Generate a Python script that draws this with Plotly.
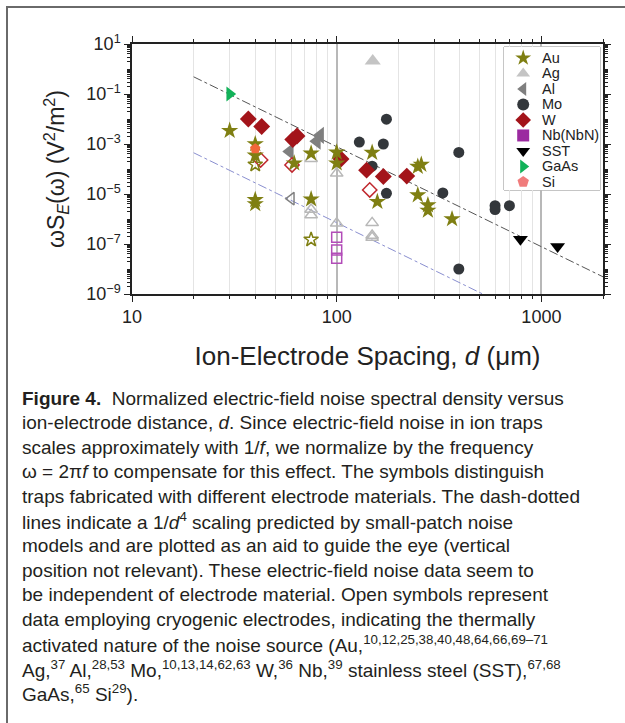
import numpy as np
import plotly.graph_objects as go

# ---------------- data ----------------
au_x = [30, 40, 40, 40, 40, 62, 75, 100, 100, 149, 75, 158, 249, 259, 249, 279, 279, 366]
au_y = [3.4e-3, 1.0e-3, 3.5e-4, 5.8e-6, 4.0e-6, 1.7e-4, 4.2e-4, 4.6e-4, 1.7e-4, 4.5e-4, 6.2e-6, 4.9e-6,
        1.24e-4, 1.5e-4, 9e-6, 3.6e-6, 2.2e-6, 1.0e-6]
au_open_x = [40, 75]
au_open_y = [1.5e-4, 1.5e-7]

ag_x = [150]
ag_y = [2.1]
ag_open_x = [75, 100, 100, 75, 75, 149, 149, 149]
ag_open_y = [2.6e-4, 6.7e-5, 6.7e-7, 2.4e-6, 1.45e-6, 7e-7, 2.2e-7, 1.8e-7]

al_x = [59, 83, 80]
al_y = [5e-4, 2.2e-3, 1.3e-3]
al_open_x = [60]
al_open_y = [6.5e-6]

mo_x = [129, 169, 175, 149, 175, 330, 395, 594, 594, 698, 395]
mo_y = [1.2e-3, 1.0e-3, 9.8e-3, 1.3e-4, 1.07e-5, 1.1e-5, 4.6e-4, 3.4e-6, 2.4e-6, 3.4e-6, 1e-8]

w_x = [37, 43, 61, 64, 105, 140, 169, 220]
w_y = [1e-2, 5e-3, 1.5e-3, 2.1e-3, 2.5e-4, 9e-5, 5e-5, 5.2e-5]
w_open_x = [42.5, 60.5, 145]
w_open_y = [2.3e-4, 1.45e-4, 1.45e-5]

nb_open_x = [100, 100, 100]
nb_open_y = [1.85e-7, 5.8e-8, 2.7e-8]

sst_x = [790, 1200]
sst_y = [1.55e-7, 8e-8]

gaas_x = [30]
gaas_y = [0.1]

si_x = [40]
si_y = [6.5e-4]

# 1/d^4 guide lines: prefactor C in  y = C / d^4
guide_d = [20, 2000]
guide_upper_C = 7.8e4
guide_lower_C = 71.4

legend_labels = ["Au", "Ag", "Al", "Mo", "W", "Nb(NbN)", "SST", "GaAs", "Si"]
legend_symbols = ["star", "triangle-up", "triangle-left", "circle", "diamond", "square",
                  "triangle-down", "triangle-right", "pentagon"]
legend_colors = ["#7f7f12", "#c4c4c4", "#7f7f7f", "#33373b", "#a3141a", "#9b2aa0",
                 "#000000", "#12b259", "#f07c7c"]

x_ticks = [10, 100, 1000]
y_tick_exp = [1, -1, -3, -5, -7, -9]

caption_lines = [
    "<b>Figure 4.</b>  Normalized electric-field noise spectral density versus",
    "ion-electrode distance, <i>d</i>. Since electric-field noise in ion traps",
    "scales approximately with 1/<i>f</i>, we normalize by the frequency",
    "ω = 2π<i>f</i> to compensate for this effect. The symbols distinguish",
    "traps fabricated with different electrode materials. The dash-dotted",
    "lines indicate a 1/<i>d</i><sup>4</sup> scaling predicted by small-patch noise",
    "models and are plotted as an aid to guide the eye (vertical",
    "position not relevant). These electric-field noise data seem to",
    "be independent of electrode material. Open symbols represent",
    "data employing cryogenic electrodes, indicating the thermally",
    "activated nature of the noise source (Au,<sup>10,12,25,38,40,48,64,66,69–71</sup>",
    "Ag,<sup>37</sup> Al,<sup>28,53</sup> Mo,<sup>10,13,14,62,63</sup> W,<sup>36</sup> Nb,<sup>39</sup> stainless steel (SST),<sup>67,68</sup>",
    "GaAs,<sup>65</sup> Si<sup>29</sup>).",
]

# ---------------- layout constants ----------------
W, H = 625, 723
L, R, T, B = 132, 603, 44, 294
FONT = "Liberation Sans, Arial, Helvetica, sans-serif"
CAP_Y0, CAP_DY = 398, 24.6

def px_to_paper_x(px):
    return (px - L) / (R - L)

def px_to_paper_y(py):
    return (B - py) / (B - T)

fig = go.Figure()

# guide lines
d = np.array(guide_d, dtype=float)
fig.add_trace(go.Scatter(x=d, y=guide_upper_C / d**4, mode="lines",
                         line=dict(color="#555555", width=1, dash="dashdot"),
                         showlegend=False, hoverinfo="skip"))
fig.add_trace(go.Scatter(x=d, y=guide_lower_C / d**4, mode="lines",
                         line=dict(color="#8a8fd0", width=1, dash="dashdot"),
                         showlegend=False, hoverinfo="skip"))

def filled(x, y, sym, col, size=12):
    fig.add_trace(go.Scatter(x=x, y=y, mode="markers", showlegend=False,
                             marker=dict(symbol=sym, size=size, color=col,
                                         line=dict(width=0))))

def opened(x, y, sym, col, size=11):
    fig.add_trace(go.Scatter(x=x, y=y, mode="markers", showlegend=False,
                             marker=dict(symbol=sym + "-open", size=size, color=col,
                                         line=dict(width=1.5, color=col))))

c = dict(zip(legend_labels, legend_colors))
opened(ag_open_x, ag_open_y, "triangle-up", "#b8b8b8")
opened(al_open_x, al_open_y, "triangle-left", "#808080")
opened(nb_open_x, nb_open_y, "square", "#b24cb8", 10)
filled(ag_x, ag_y, "triangle-up", c["Ag"], 14)
filled(mo_x, mo_y, "circle", c["Mo"], 11)
filled(al_x, al_y, "triangle-left", c["Al"], 15)
filled(w_x, w_y, "diamond", c["W"], 13)
opened(w_open_x, w_open_y, "diamond", "#c0282e", 11)
filled(au_x, au_y, "star", c["Au"], 13)
opened(au_open_x, au_open_y, "star", c["Au"], 11)
filled(si_x, si_y, "pentagon", "#f2673a", 11)
filled(sst_x, sst_y, "triangle-down", c["SST"], 13)
filled(gaas_x, gaas_y, "triangle-right", c["GaAs"], 13)

# compact legend drawn in its own small subplot
for i, (lab, sym, col) in enumerate(zip(legend_labels, legend_symbols, legend_colors)):
    fig.add_trace(go.Scatter(x=[0.2], y=[i], mode="markers", showlegend=False,
                             xaxis="x2", yaxis="y2", hoverinfo="skip",
                             marker=dict(symbol=sym, size=12, color=col)))
    fig.add_annotation(x=0.37, y=i, xref="x2", yref="y2", text=lab, showarrow=False,
                       xanchor="left", yanchor="middle",
                       font=dict(family=FONT, size=14.5, color="#222222"))

minor_x = [k * 10**e for e in (1, 2) for k in range(2, 10)] + [2000]
minor_y = [k * 10.0**e for e in range(-9, 1) for k in range(1, 10)
           if not (k == 1 and e in y_tick_exp)]

fig.update_layout(
    width=W, height=H,
    margin=dict(l=L, r=W - R, t=T, b=H - B, pad=0),
    paper_bgcolor="white", plot_bgcolor="white",
    font=dict(family=FONT, color="#222222"),
    showlegend=False,
    xaxis=dict(
        type="log", range=[1, np.log10(2000)],
        tickmode="array", tickvals=x_ticks, ticktext=[str(v) for v in x_ticks],
        ticks="outside", ticklen=6, tickwidth=1, tickcolor="#222",
        showline=True, linecolor="#222", linewidth=1.5, mirror="ticks",
        showgrid=True, gridcolor="#b8b8b8", gridwidth=1.6,
        tickfont=dict(size=18, family=FONT, color="#222"),
        minor=dict(tickmode="array", tickvals=minor_x, ticks="outside", ticklen=3,
                   tickcolor="#222", showgrid=True, gridcolor="#e4e4e4", gridwidth=1),
        title=dict(text="Ion-Electrode Spacing, <i>d</i> (μm)",
                   font=dict(size=26, family=FONT, color="#222"), standoff=20),
        zeroline=False, automargin=False,
    ),
    yaxis=dict(
        type="log", range=[-9, 1],
        tickmode="array", tickvals=[10.0**e for e in y_tick_exp],
        ticktext=["10<sup>%s</sup>" % (str(e).replace("-", "−")) for e in y_tick_exp],
        ticks="outside", ticklen=6, tickwidth=1, tickcolor="#222",
        showline=True, linecolor="#222", linewidth=1.5, mirror="ticks",
        showgrid=False,
        tickfont=dict(size=18, family=FONT, color="#222"),
        minor=dict(tickmode="array", tickvals=minor_y, ticks="outside", ticklen=3,
                   tickcolor="#222", showgrid=False),
        title=dict(text="ωS<sub><i>E</i></sub>(ω) (V<sup>2</sup>/m<sup>2</sup>)",
                   font=dict(size=23, family=FONT, color="#222"), standoff=15),
        zeroline=False, automargin=False,
    ),
    xaxis2=dict(domain=[px_to_paper_x(504), px_to_paper_x(600)], range=[0, 1],
                anchor="y2", visible=False, fixedrange=True),
    yaxis2=dict(domain=[px_to_paper_y(190), px_to_paper_y(47)], range=[8.52, -0.71],
                anchor="x2", visible=False, fixedrange=True),
)

# legend box
fig.add_shape(type="rect", xref="x2 domain", yref="y2 domain", x0=0, x1=1, y0=0, y1=1,
              line=dict(color="#8c8c8c", width=1), fillcolor="white", layer="below")

# outer frame of the figure panel (only top/left edges visible)
fig.add_shape(type="rect", xref="paper", yref="paper",
              x0=px_to_paper_x(7), x1=px_to_paper_x(660),
              y0=px_to_paper_y(760), y1=px_to_paper_y(7),
              line=dict(color="#6a6a6a", width=2), fillcolor="rgba(0,0,0,0)", layer="below")

# caption
for i, line in enumerate(caption_lines):
    fig.add_annotation(x=px_to_paper_x(20), y=px_to_paper_y(CAP_Y0 + CAP_DY * i),
                       xref="paper", yref="paper", text=line, showarrow=False,
                       xanchor="left", yanchor="middle", align="left",
                       font=dict(family=FONT, size=19.0, color="#231f20"))

fig.write_html("out.html", config={"displayModeBar": False},
               post_script="document.body.style.margin='0';")
